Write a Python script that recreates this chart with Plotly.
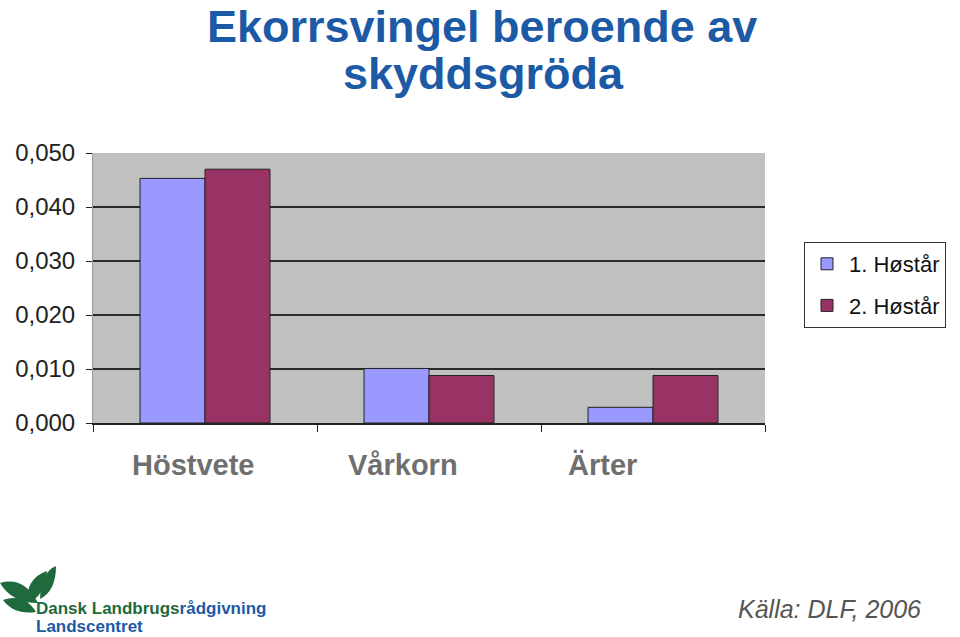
import plotly.graph_objects as go

categories = ["Höstvete", "Vårkorn", "Ärter"]
series1_name = "1. Høstår"
series2_name = "2. Høstår"
series1 = [0.0453, 0.0101, 0.0029]
series2 = [0.0470, 0.0088, 0.0088]
y_ticks = [0.0, 0.01, 0.02, 0.03, 0.04, 0.05]

W, H = 960, 637
ML, MR, MT, MB = 93, 195, 153, 214
PW, PH = W - ML - MR, H - MT - MB

def px(x):
    return (x - ML) / PW

def py(y):
    return (H - MB - y) / PH

fig = go.Figure()
fig.add_trace(go.Bar(x=categories, y=series1, name=series1_name,
                     marker=dict(color="#9999FF", line=dict(color="#222222", width=1)),
                     legendgroup="a"))
fig.add_trace(go.Bar(x=categories, y=series2, name=series2_name,
                     marker=dict(color="#993366", line=dict(color="#222222", width=1)),
                     legendgroup="b"))

fig.update_layout(
    width=W, height=H,
    margin=dict(l=ML, r=MR, t=MT, b=MB),
    paper_bgcolor="white",
    plot_bgcolor="#C0C0C0",
    barmode="group",
    bargap=0.42,
    bargroupgap=0,
    separators=",.",
    font=dict(family="Liberation Sans, Arial, sans-serif", color="#222222"),
    showlegend=True,
    legend=dict(
        xref="container", yref="container",
        x=804 / W, y=1 - 242 / H, xanchor="left", yanchor="top",
        bordercolor="#333333", borderwidth=1, bgcolor="white",
        font=dict(size=22, color="#111111"),
        traceorder="grouped", tracegroupgap=10,
        itemwidth=34,
    ),
)

fig.update_yaxes(
    range=[0, 0.05], tickvals=y_ticks, tickformat=".3f",
    showgrid=True, gridcolor="#2a2a2a", gridwidth=1.5,
    ticks="outside", ticklen=6, tickcolor="#222222",
    tickfont=dict(size=24, color="#222222"),
    ticklabelstandoff=6,
    showline=True, linecolor="#999999", linewidth=1,
    zeroline=False,
)
fig.update_xaxes(
    showticklabels=False, tickson="boundaries", ticks="outside", ticklen=7,
    tickcolor="#222222", showline=True, linecolor="#222222", linewidth=1.5,
    showgrid=False,
)

# category labels (slightly left of group centres as in the reference)
label_shifts = [-12, -26, -51]
for cat, sh in zip(categories, label_shifts):
    fig.add_annotation(x=cat, y=0, xref="x", yref="y", text=f"<b>{cat}</b>",
                       showarrow=False, xshift=sh, yshift=-42,
                       xanchor="center", yanchor="middle",
                       font=dict(size=29, color="#6f6f6f",
                                 family="Liberation Sans, Arial, sans-serif"))

# title
title_color = "#1C5AA6"
fig.add_annotation(x=px(482), y=py(26), xref="paper", yref="paper",
                   text="<b>Ekorrsvingel beroende av</b>", showarrow=False,
                   xanchor="center", yanchor="middle",
                   font=dict(size=45, color=title_color))
fig.add_annotation(x=px(483), y=py(73), xref="paper", yref="paper",
                   text="<b>skyddsgröda</b>", showarrow=False,
                   xanchor="center", yanchor="middle",
                   font=dict(size=45, color=title_color))

# source
fig.add_annotation(x=px(829), y=py(609), xref="paper", yref="paper",
                   text="<i>Källa: DLF, 2006</i>", showarrow=False,
                   xanchor="center", yanchor="middle",
                   font=dict(size=25, color="#555555"))

# logo text
green = "#1E6A3C"
blue = "#1C5AA6"
fig.add_annotation(x=px(34), y=py(608), xref="paper", yref="paper",
                   text=f"<b><span style='color:{green}'>Dansk Landbrugs</span>"
                        f"<span style='color:{blue}'>rådgivning</span></b>",
                   showarrow=False, xanchor="left", yanchor="middle",
                   font=dict(size=17))
fig.add_annotation(x=px(34), y=py(626), xref="paper", yref="paper",
                   text="<b>Landscentret</b>", showarrow=False,
                   xanchor="left", yanchor="middle",
                   font=dict(size=17, color=blue))

# logo leaves
def leaf(pts):
    d = f"M {px(pts[0][0])},{py(pts[0][1])} "
    d += f"Q {px(pts[1][0])},{py(pts[1][1])} {px(pts[2][0])},{py(pts[2][1])} "
    d += f"Q {px(pts[3][0])},{py(pts[3][1])} {px(pts[0][0])},{py(pts[0][1])} Z"
    return d

leaves = [
    [(0, 583), (24, 576), (38, 603), (12, 603)],
    [(3, 600), (24, 593), (36, 612), (14, 615)],
    [(27, 603), (26, 578), (47, 571), (45, 597)],
    [(40, 599), (41, 572), (56, 566), (56, 591)],
]
for lf in leaves:
    fig.add_shape(type="path", path=leaf(lf), xref="paper", yref="paper",
                  fillcolor=green, line=dict(width=0), layer="above")

fig.write_html("out.html")
